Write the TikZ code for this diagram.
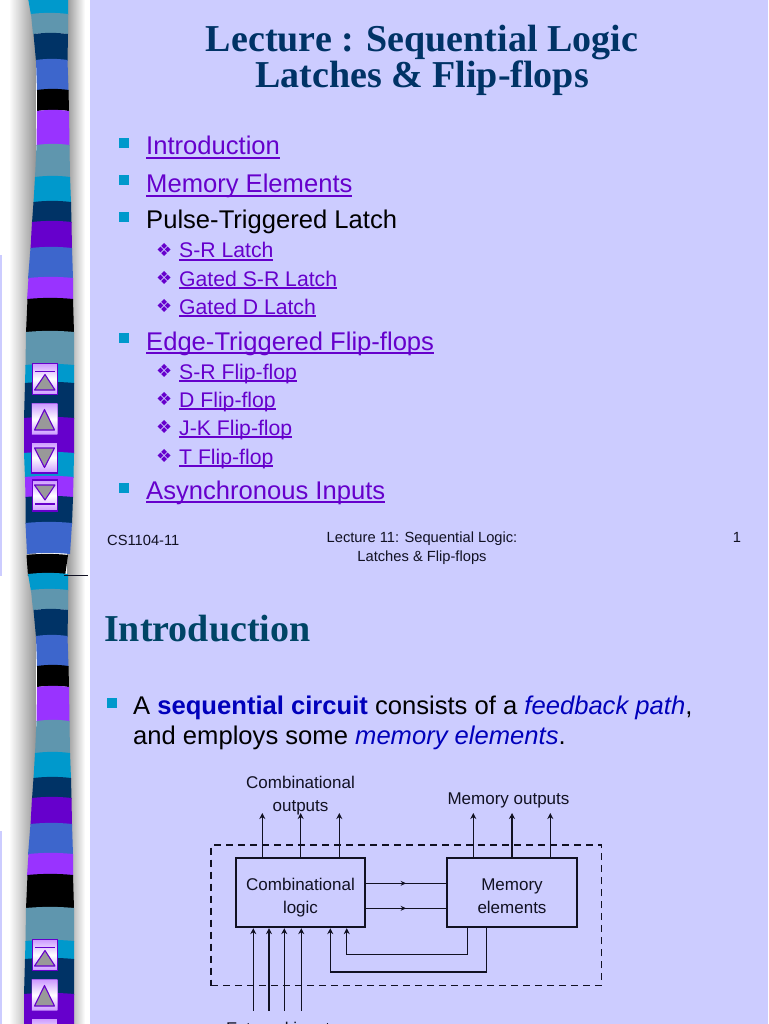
\documentclass[tikz,border=0pt]{standalone}
\usepackage{fontspec}
\setmainfont{Liberation Sans}
\newfontfamily\serifb{Liberation Serif}
\newfontfamily\dejav{DejaVu Sans}
\usetikzlibrary{arrows.meta,decorations.markings}
\definecolor{bgl}{HTML}{CCCCFF}
\definecolor{navyt}{HTML}{003366}
\definecolor{headt}{HTML}{004466}
\definecolor{vio}{HTML}{6600CC}
\definecolor{cyb}{HTML}{0099CC}
\definecolor{tealb}{HTML}{5F96AE}
\definecolor{navyb}{HTML}{003366}
\definecolor{blueb}{HTML}{3D66CC}
\definecolor{purb}{HTML}{9933FF}
\definecolor{lnkc}{HTML}{6600CC}
\definecolor{boldb}{HTML}{0000BB}
\definecolor{linec}{HTML}{111122}
\definecolor{btop}{HTML}{CC99FF}
\definecolor{tri}{HTML}{999999}
\newcommand\lnk[1]{\setbox0\hbox{#1}\rlap{\rule[-0.14em]{\wd0}{0.07em}}\box0}
\newcommand\bandb[7]{\fill[#1] (#2,#3) .. controls ({0.67*#2+0.33*#4},#3-1.5) and ({0.33*#2+0.67*#4},#3-1.5) .. (#4,#3)
  -- (#7,#6) .. controls ({0.33*#5+0.67*#7},#6-1.5) and ({0.67*#5+0.33*#7},#6-1.5) .. (#5,#6) -- cycle;}
\newcommand\stripe{%
  \bandb{cyb}{28}{-2}{68}{31}{15}{68}
  \bandb{tealb}{31}{14}{68}{33}{34}{68}
  \bandb{navyb}{33.5}{34}{68}{36}{61}{67.5}
  \bandb{blueb}{36}{60}{67.5}{37}{91}{68.5}
  \bandb{black}{37}{90}{68.5}{37}{111}{69}
  \bandb{purb}{37}{111}{69}{36.5}{146}{69.5}
  \bandb{tealb}{36.5}{145}{69.5}{35}{178}{70}
  \bandb{cyb}{35}{177}{70}{33.5}{203}{71}
  \bandb{navyb}{33.5}{202}{71}{32}{223}{71.5}
  \bandb{vio}{32}{222}{71.5}{30.5}{249}{72}
  \bandb{blueb}{30.5}{248}{72}{28}{279}{73}
  \bandb{purb}{28.5}{278}{73}{27}{300}{73}
  \bandb{black}{27.5}{299}{73}{26}{333}{74}
  \bandb{tealb}{26}{332}{74}{25.5}{366}{74}
  \bandb{cyb}{25.5}{365}{74}{25}{384}{74}
  \bandb{navyb}{25}{383}{74}{24}{419}{74}
  \bandb{vio}{24}{418}{74}{24}{454}{74}
  \bandb{cyb}{24}{453}{74}{25}{478}{73.5}
  \bandb{purb}{25}{477}{73.5}{25.5}{498}{73}
  \bandb{navyb}{25.5}{497}{73}{25.5}{524}{72}
  \bandb{blueb}{25.5}{523}{72}{27}{554}{70}
  \bandb{black}{26.5}{555}{68}{28}{576}{65}
}
\tikzset{
  title/.style={inner sep=0,anchor=base,font=\serifb\bfseries\fontsize{38}{38}\selectfont,text=navyt},
  main/.style={inner sep=0,anchor=base west,font=\fontsize{25.6}{26}\selectfont,text=lnkc},
  sub/.style={inner sep=0,anchor=base west,font=\fontsize{21.2}{22}\selectfont,text=lnkc},
  foot/.style={inner sep=0,anchor=base,font=\fontsize{14.7}{15}\selectfont,text=linec},
  diag/.style={inner sep=0,align=center,font=\fontsize{17}{23}\selectfont,text=linec},
  sq/.style={fill=cyb,minimum size=10,inner sep=0},
  dia/.style={inner sep=0,anchor=base west,font=\dejav\fontsize{18}{18}\selectfont,text=vio},
  blockb/.style={draw=linec,line width=2,inner sep=0},
  wire/.style={draw=linec,line width=1.3},
  arr/.style={wire,-{Stealth[length=6,width=6]}},
  mid/.style={wire,postaction={decorate},decoration={markings,mark=at position 0.5 with {\arrow{Stealth[length=5.5,width=5]}}}},
  btn/.style={rectangle,minimum width=25.5,minimum height=31,inner sep=0,draw=vio,line width=1.3,top color=btop,bottom color=btop,middle color=white},
  tria/.style={fill=tri,draw=vio,line width=1.1,line join=round},
}
\newcommand\upbar[1]{\node[btn] (ba) at (45,#1+380) {};
  \draw[vio,line width=1.6] (35,#1+372.5) -- (55,#1+372.5);
  \draw[tria] (34.5,#1+391) -- (45,#1+375.5) -- (55,#1+391) -- cycle;}
\newcommand\upn[1]{\node[btn,draw opacity=.35] (bb) at (44.5,#1+419) {};
  \draw[tria] (34.5,#1+430) -- (44.5,#1+409.5) -- (54.5,#1+430) -- cycle;}
\newcommand\dnn[1]{\node[btn] (bc) at (44.5,#1+457.5) {};
  \draw[tria] (34.5,#1+448) -- (44.5,#1+467.5) -- (54.5,#1+448) -- cycle;}
\newcommand\dnbar[1]{\node[btn] (bd) at (45,#1+495.5) {};
  \draw[vio,line width=1.6] (35,#1+504) -- (55,#1+504);
  \draw[tria] (34.5,#1+485) -- (45,#1+500) -- (55,#1+485) -- cycle;}
\begin{document}
\begin{tikzpicture}[x=1pt,y=-1pt]
\useasboundingbox (0,0) rectangle (768,1024);
\clip (0,0) rectangle (768,1024);
\fill[bgl] (0,0) rectangle (768,1024);
% side strip shadow
\fill[white] (0,0) rectangle (90,1024);
\fill[bgl] (0,255) rectangle (2,576);
\fill[bgl] (0,831) rectangle (2,1024);
\foreach \i in {0,...,26}{
  \pgfmathsetmacro\p{100*(\i/26)}
  \fill[tri!\p!white] ({9+\i},0) rectangle ({10.2+\i},1024);
}
\foreach \i in {0,...,18}{
  \pgfmathsetmacro\p{100*(1-\i/18)}
  \fill[tri!\p!white] ({67+\i},0) rectangle ({68.2+\i},1024);
}
% stripes
\stripe
\begin{scope}[yshift=-576pt]\stripe\end{scope}
\draw[linec,line width=.8] (64,575.5) -- (88,575.5);
% buttons
\upbar{-1}\upn{0}\dnn{0}\dnbar{0}
\upbar{575}\upn{576}
\node[btn] (be) at (44.5,1034) {};
% slide 1
\node[title] (t1) at (422,52) {Lecture : Sequential Logic};
\node[title] (t2) at (422,88) {Latches \& Flip-flops};
\node[sq] (q1) at (124.3,143) {};
\node[sq] (q2) at (124.3,180) {};
\node[sq] (q3) at (124.3,217) {};
\node[sq] (q4) at (124.3,338) {};
\node[sq] (q5) at (124.3,488) {};
\node[main] (m1) at (146,155) {\lnk{Introduction}};
\node[main] (m2) at (146,193) {\lnk{Memory Elements}};
\node[main,text=black] (m3) at (146,229) {Pulse-Triggered Latch};
\node[main] (m4) at (146,350) {\lnk{Edge-Triggered Flip-flops}};
\node[main] (m5) at (146,499) {\lnk{Asynchronous Inputs}};
\node[dia] (d1) at (156,256.5) {❖};
\node[dia] (d2) at (156,284.5) {❖};
\node[dia] (d3) at (156,312.5) {❖};
\node[dia] (d4) at (156,377.5) {❖};
\node[dia] (d5) at (156,405.5) {❖};
\node[dia] (d6) at (156,433.5) {❖};
\node[dia] (d7) at (156,462.5) {❖};
\node[sub] (s1) at (179,258) {\lnk{S-R Latch}};
\node[sub] (s2) at (179,286) {\lnk{Gated S-R Latch}};
\node[sub] (s3) at (179,314) {\lnk{Gated D Latch}};
\node[sub] (s4) at (179,379) {\lnk{S-R Flip-flop}};
\node[sub] (s5) at (179,407) {\lnk{D Flip-flop}};
\node[sub] (s6) at (179,435) {\lnk{J-K Flip-flop}};
\node[sub] (s7) at (179,464) {\lnk{T Flip-flop}};
\node[foot,anchor=base west] (f1) at (107,545) {CS1104-11};
\node[foot] (f2) at (422,542) {Lecture 11: Sequential Logic:};
\node[foot] (f3) at (422,561) {Latches \& Flip-flops};
\node[foot] (f4) at (737,542) {1};
% slide 2
\node[title,anchor=base west,text=headt] (h) at (104,641) {Introduction};
\node[sq] (q6) at (112,703) {};
\node[main,text=black] (l1) at (133,714) {A {\color{boldb}\bfseries sequential circuit} consists of a {\color{boldb}\itshape feedback path},};
\node[main,text=black] (l2) at (133,744) {and employs some {\color{boldb}\itshape memory elements}.};
% diagram
\node[draw=linec,line width=1.6,dash pattern=on 7pt off 5pt,minimum width=390.5,minimum height=140.5,inner sep=0] (dbox) at (406.3,915.4) {};
\node[blockb,minimum width=129,minimum height=69.5] (comb) at (300.5,892.4) {};
\node[blockb,minimum width=129.5,minimum height=69.5] (mem) at (512,892.4) {};
\node[diag] (lcomb) at (300.5,898) {Combinational\\logic};
\node[diag] (lmem) at (512,896) {Memory\\elements};
\node[diag] (lco) at (300.5,795.5) {Combinational\\outputs};
\node[diag] (lmo) at (508.5,800) {Memory outputs};
\node[diag,anchor=base west] (lei) at (226,1034) {External inputs};
\coordinate (o1) at (262.3,813);
\coordinate (o2) at (300.7,813);
\coordinate (o3) at (339.3,813);
\coordinate (o4) at (473.3,813);
\coordinate (o5) at (512,813);
\coordinate (o6) at (550.3,813);
\draw[arr] (comb.north -| o1) -- (o1);
\draw[arr] (comb.north -| o2) -- (o2);
\draw[arr] (comb.north -| o3) -- (o3);
\draw[arr] (mem.north -| o4) -- (o4);
\draw[arr] (mem.north -| o5) -- (o5);
\draw[arr] (mem.north -| o6) -- (o6);
\coordinate (h1) at (400,883.3);
\coordinate (h2) at (400,908.3);
\draw[mid] (comb.east |- h1) -- (mem.west |- h1);
\draw[mid] (comb.east |- h2) -- (mem.west |- h2);
\coordinate (i1) at (253.3,1010.7);
\coordinate (i2) at (269,1010.7);
\coordinate (i3) at (284.3,1010.7);
\coordinate (i4) at (301.3,1010.7);
\draw[arr] (i1) -- (comb.south -| i1);
\draw[arr] (i2) -- (comb.south -| i2);
\draw[arr] (i3) -- (comb.south -| i3);
\draw[arr] (i4) -- (comb.south -| i4);
\coordinate (fa) at (467.3,954.3);
\coordinate (fb) at (346.7,954.3);
\coordinate (fc) at (486.3,972);
\coordinate (fd) at (330.3,972);
\draw[arr] (mem.south -| fa) -- (fa) -- (fb) -- (comb.south -| fb);
\draw[arr] (mem.south -| fc) -- (fc) -- (fd) -- (comb.south -| fd);
\end{tikzpicture}
\end{document}
